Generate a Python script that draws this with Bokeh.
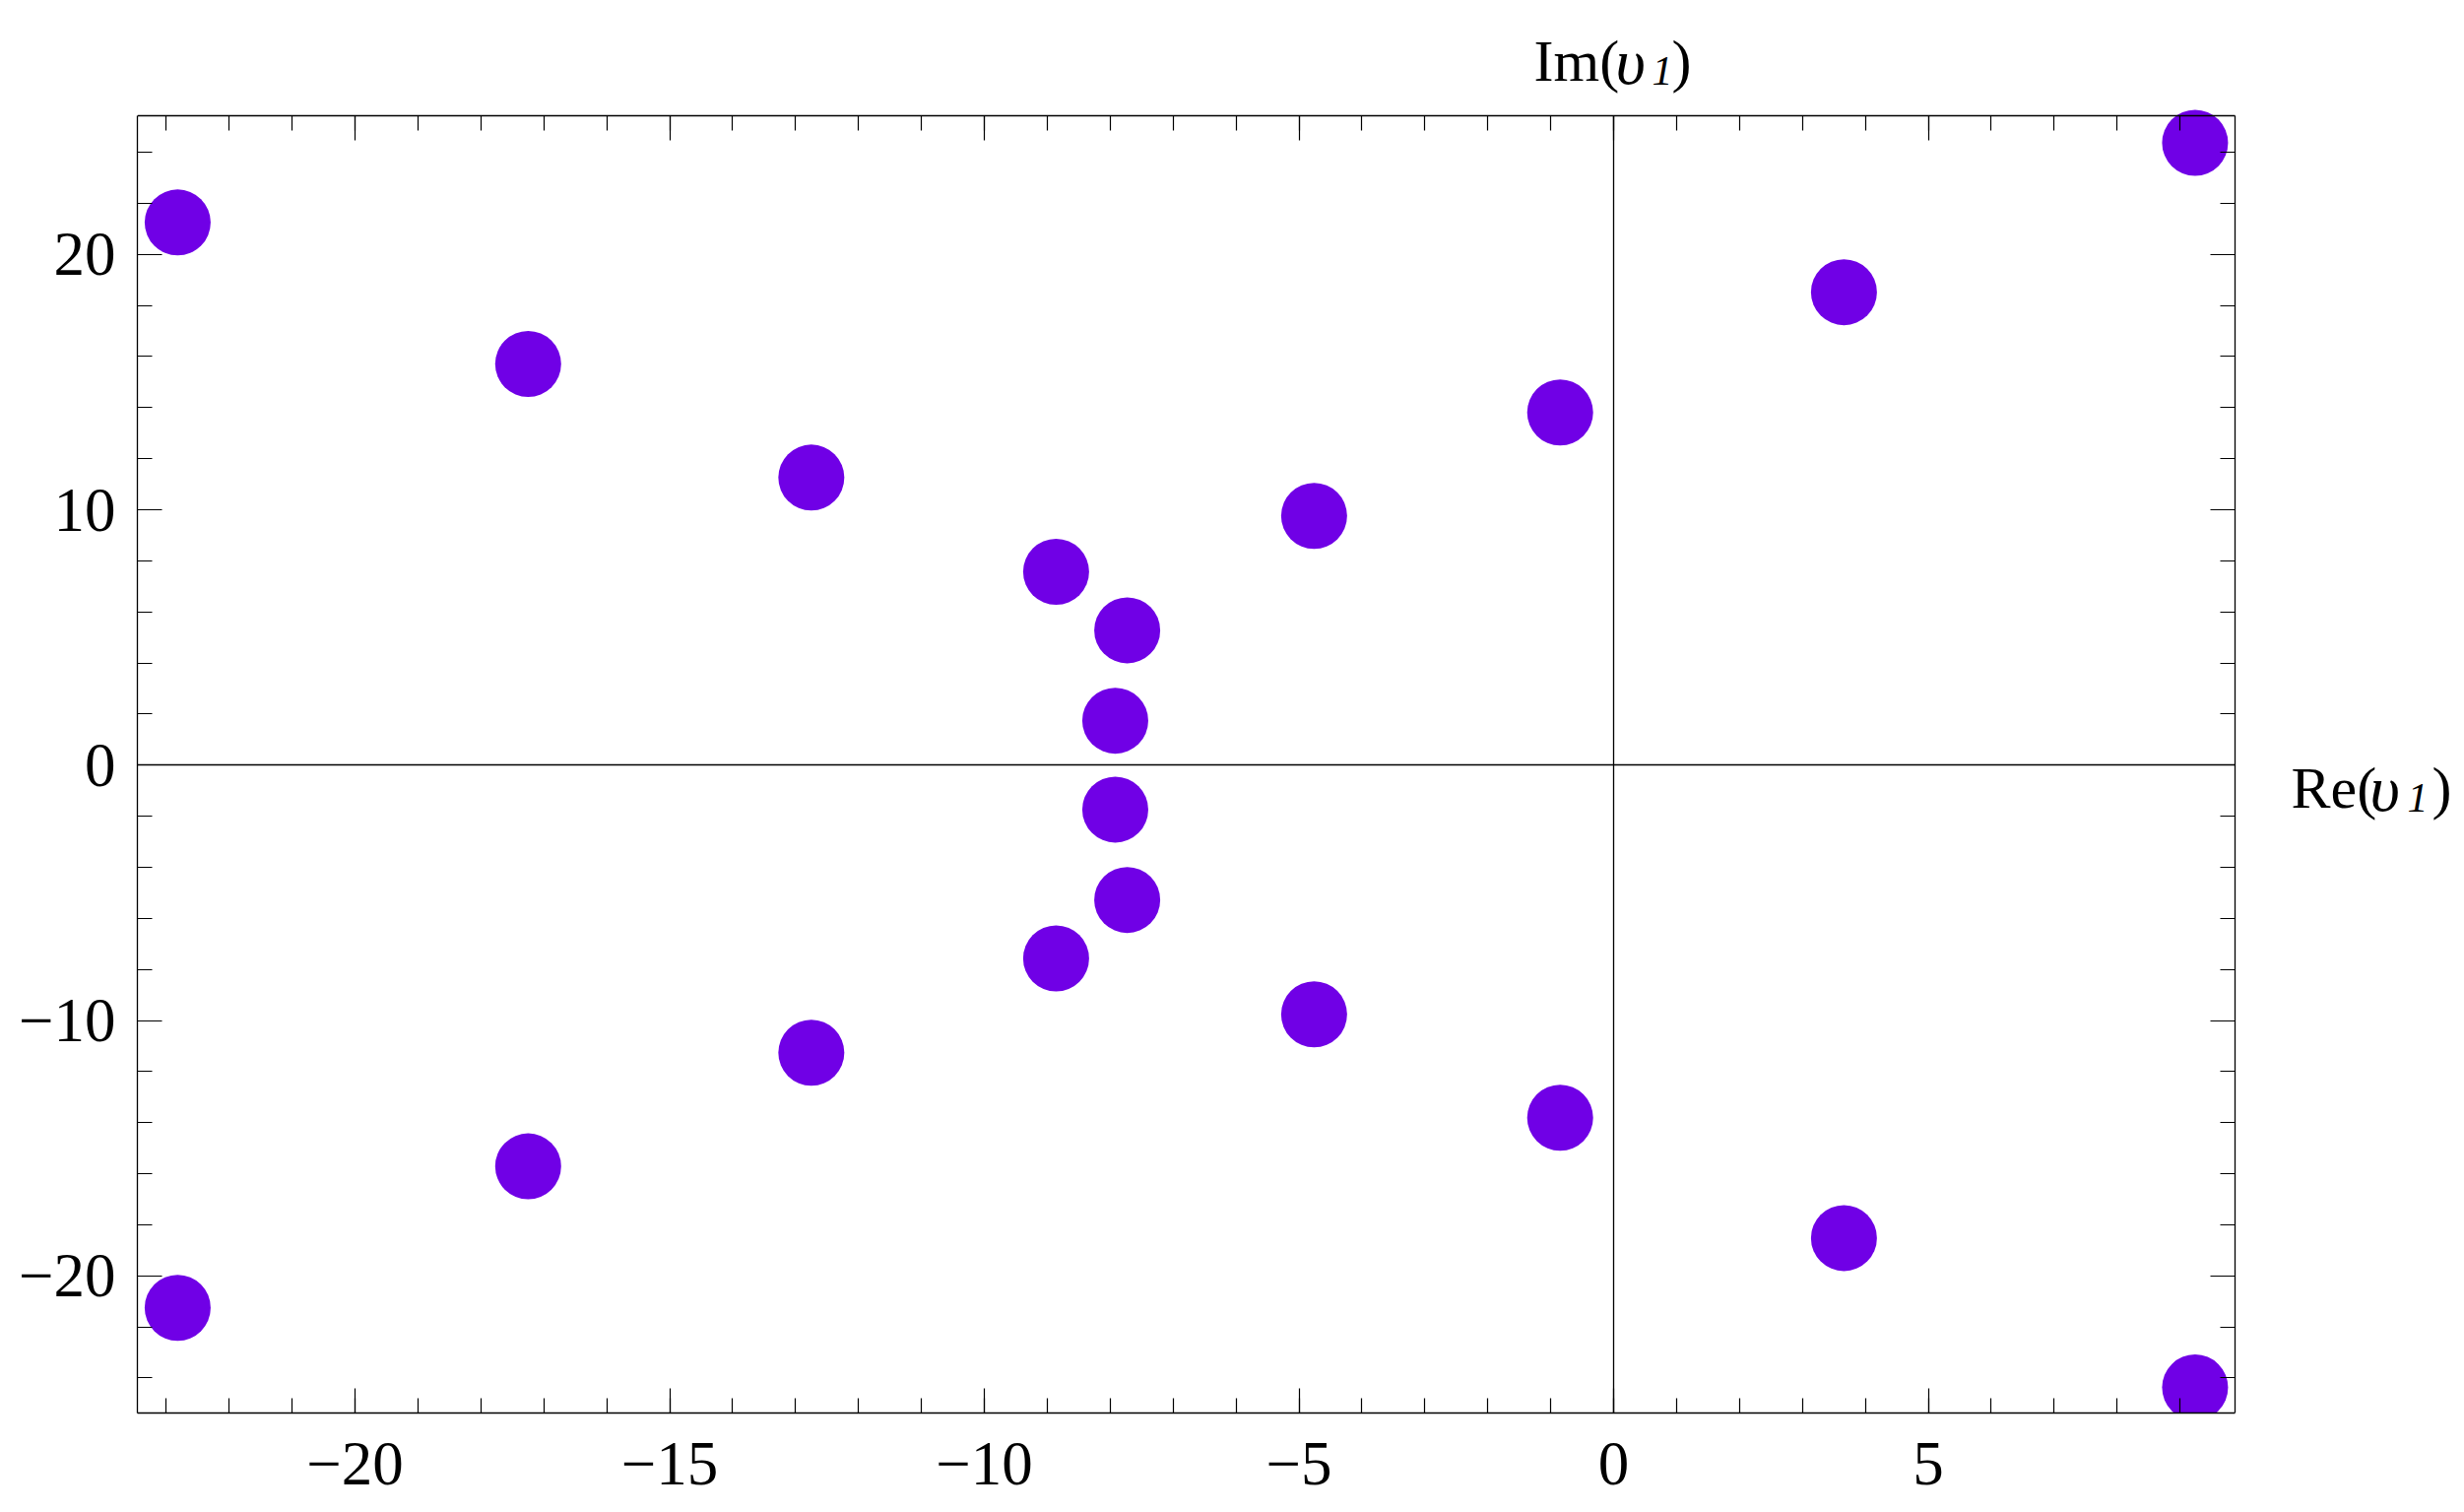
from bokeh.plotting import figure
from bokeh.models import (Range1d, LinearAxis, SingleIntervalTicker,
                          CustomJSTickFormatter, Label, ColumnDataSource)
from bokeh.embed import file_html
from bokeh.resources import INLINE

# ---- data ----
re_upper = [-22.82, -17.25, -12.75, -8.86, -7.73, -7.92, -4.76, -0.85, 3.66, 9.24]
im_upper = [21.25, 15.71, 11.26, 7.57, 5.28, 1.74, 9.76, 13.81, 18.52, 24.37]
re_lower = [-22.82, -17.25, -12.75, -8.86, -7.73, -7.92, -4.76, -0.85, 3.66, 9.24]
im_lower = [-21.25, -15.71, -11.26, -7.57, -5.28, -1.74, -9.76, -13.81, -18.52, -24.37]

BOX_X = (-23.46, 9.875)     # visible plot box
BOX_Y = (-25.37, 25.43)
X_TICK_STEP = 5
Y_TICK_STEP = 10

FONT = "Liberation Serif"
POINT_COLOR = "#7000E6"

# ---- layout (pixels) ----
W, H = 2500, 1534
BOX_L, BOX_R, BOX_T, BOX_B = 139, 2269, 117, 1434
MB_L, MB_R, MB_T, MB_B = BOX_L, 8, 10, H - BOX_B

fr_r, fr_t = W - MB_R, MB_T
sx = (BOX_X[1] - BOX_X[0]) / (BOX_R - BOX_L)
sy = (BOX_Y[1] - BOX_Y[0]) / (BOX_B - BOX_T)
x_range = Range1d(BOX_X[0], BOX_X[1] + (fr_r - BOX_R) * sx)
y_range = Range1d(BOX_Y[0], BOX_Y[1] + (BOX_T - fr_t) * sy)

p = figure(width=W, height=H, x_range=x_range, y_range=y_range,
           output_backend="svg", toolbar_location=None,
           x_axis_location=None, y_axis_location=None,
           min_border_left=MB_L, min_border_right=MB_R,
           min_border_top=MB_T, min_border_bottom=MB_B)
p.background_fill_color = "white"
p.border_fill_color = "white"
p.outline_line_color = None
p.grid.visible = False

neg_fmt = "return tick < 0 ? '\\u2212' + Math.abs(tick) : '' + tick;"
empty_fmt = "return '';"

xt = SingleIntervalTicker(interval=X_TICK_STEP, num_minor_ticks=5)
yt = SingleIntervalTicker(interval=Y_TICK_STEP, num_minor_ticks=5)


def make_axis(ticker, bounds, loc=None, labels=False, ticks=True, standoff=0):
    kw = {} if loc is None else {"fixed_location": loc}
    ax = LinearAxis(ticker=ticker, bounds=bounds, **kw)
    ax.formatter = CustomJSTickFormatter(code=neg_fmt if labels else empty_fmt)
    ax.axis_line_color = "black"
    ax.axis_line_width = 1.3
    ax.major_tick_in = 25 if ticks else 0
    ax.major_tick_out = 0
    ax.minor_tick_in = 15 if ticks else 0
    ax.minor_tick_out = 0
    ax.major_tick_line_color = "black" if ticks else None
    ax.minor_tick_line_color = "black" if ticks else None
    ax.major_tick_line_width = 1.2
    ax.minor_tick_line_width = 1.2
    ax.major_label_text_font = FONT
    ax.major_label_text_font_size = "63px"
    ax.major_label_text_color = "black"
    ax.major_label_standoff = standoff
    return ax


# plot box: labelled axes on the left and bottom, tick-only edges on top and right
p.add_layout(make_axis(xt, BOX_X, labels=True, standoff=30), "below")
p.add_layout(make_axis(yt, BOX_Y, labels=True, standoff=22), "left")
p.add_layout(make_axis(xt, BOX_X, loc=BOX_Y[1]), "above")
p.add_layout(make_axis(yt, BOX_Y, loc=BOX_X[1]), "right")
# axes through the origin
p.add_layout(make_axis(xt, BOX_X, loc=0, ticks=False), "above")
p.add_layout(make_axis(yt, BOX_Y, loc=0, ticks=False), "right")

src = ColumnDataSource(dict(x=re_upper + re_lower, y=im_upper + im_lower))
p.scatter("x", "y", source=src, size=67, fill_color=POINT_COLOR, line_color=None)


def add_piece(text, x, y, xo, yo, size, italic):
    p.add_layout(Label(x=x, y=y, x_offset=xo, y_offset=yo, text=text,
                       text_font=FONT, text_font_size=size,
                       text_font_style="italic" if italic else "normal",
                       text_color="black", text_align="left",
                       text_baseline="alphabetic"))


# "Im(υ1)" above the vertical axis
ytop = BOX_Y[1]
add_piece("Im(", 0, ytop, -81, 55.3, "60px", False)
add_piece("\u03c5", 0, ytop, 2, 55.3, "66px", True)
add_piece("1", 0, ytop, 39, 45.3, "42px", True)
add_piece(")", 0, ytop, 59, 55.3, "60px", False)

# "Re(υ1)" right of the horizontal axis
xr = BOX_X[1]
add_piece("Re(", xr, 0, 57, -23.7, "60px", False)
add_piece("\u03c5", xr, 0, 137, -23.7, "66px", True)
add_piece("1", xr, 0, 175, -33.7, "42px", True)
add_piece(")", xr, 0, 200, -23.7, "60px", False)

open("out.html", "w", encoding="utf-8").write(file_html(p, INLINE))
